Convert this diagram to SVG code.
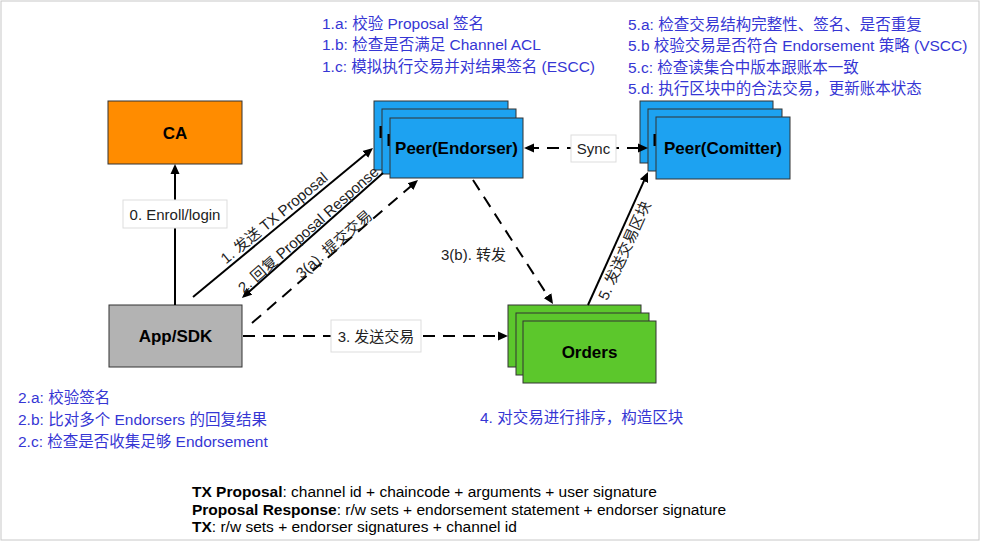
<svg xmlns="http://www.w3.org/2000/svg" width="984" height="543" viewBox="0 0 984 543">
<style>
text{font-family:"Liberation Sans","Noto Sans CJK SC",sans-serif;}
.node{stroke:#333;stroke-width:1;}
.blue{fill:#1DA2F1;}
.green{fill:#5CC72C;}
.orange{fill:#FF8C00;}
.gray{fill:#B3B3B3;}
.nt{font-size:17px;font-weight:bold;fill:#000;text-anchor:middle;}
.frag{fill:#000;}
.lbl{font-size:15px;fill:#222;}
.note{font-size:15.5px;fill:#3636D4;}
.foot{font-size:15.5px;fill:#000;}
.box{fill:#fff;stroke:#ddd;stroke-width:1;}
.ln{fill:none;stroke:#000;stroke-width:2;}
.dash{stroke-dasharray:12 8;}
</style>
<defs>
<marker id="ah" viewBox="0 0 10 10" refX="7" refY="5" markerWidth="5" markerHeight="5" orient="auto-start-reverse" markerUnits="strokeWidth">
<path d="M0,0.5 L10,5 L0,9.5 z" fill="#000"/>
</marker>
</defs>
<rect x="1" y="1" width="978" height="539" fill="#fff" stroke="#c8c8c8" stroke-width="1"/>

<g id="ca">
<rect class="node orange" x="108" y="101" width="134" height="63"/>
<text class="nt" x="175" y="138.5">CA</text>
</g>
<g id="app">
<rect class="node gray" x="109" y="305" width="133" height="62"/>
<text class="nt" x="175.5" y="342">App/SDK</text>
</g>
<g id="endorser">
<rect class="node blue" x="374" y="101" width="134" height="69"/>
<rect class="frag" x="379.5" y="126" width="2.5" height="12"/>
<rect class="node blue" x="382" y="109" width="134" height="65"/>
<rect class="frag" x="387.5" y="134" width="2.5" height="12"/>
<rect class="node blue" x="390" y="118" width="133" height="60"/>
<text class="nt" x="456.5" y="154">Peer(Endorser)</text>
</g>
<g id="committer">
<rect class="node blue" x="640" y="101" width="133" height="62"/>
<rect class="node blue" x="648" y="109" width="134" height="62"/>
<rect class="frag" x="653.5" y="134" width="2.5" height="12"/>
<rect class="node blue" x="656" y="117" width="134" height="62"/>
<text class="nt" x="723" y="154">Peer(Comitter)</text>
</g>
<g id="orders">
<rect class="node green" x="508" y="305" width="133" height="62"/>
<rect class="node green" x="516" y="313" width="133" height="62"/>
<rect class="node green" x="523" y="321" width="133" height="62"/>
<text class="nt" x="589.5" y="358">Orders</text>
</g>

<g id="connectors">
<path class="ln" d="M175,305 V167" marker-end="url(#ah)"/>
<rect class="box" x="123" y="200" width="104" height="28"/>
<text class="lbl" x="175" y="219.5" text-anchor="middle">0. Enroll/login</text>

<path class="ln" d="M193,297 L370.7,149.9" marker-end="url(#ah)"/>
<text class="lbl" transform="translate(280,225) rotate(-39.6)" y="-4" text-anchor="middle">1. 发送 TX Proposal</text>

<path class="ln" d="M383,173 L244.2,296" marker-end="url(#ah)"/>
<text class="lbl" transform="translate(313,235) rotate(-41.6)" y="-2" text-anchor="middle">2. 回复 Proposal Response</text>

<path class="ln dash" d="M252,323 L415.7,182" marker-end="url(#ah)"/>
<text class="lbl" transform="translate(338,249) rotate(-40.8)" y="-1" text-anchor="middle">3(a). 提交交易</text>

<path class="ln dash" d="M473,180 L551.4,301.5" marker-end="url(#ah)"/>
<text class="lbl" x="441" y="260">3(b). 转发</text>

<path class="ln dash" d="M243,336 L505,336" marker-end="url(#ah)"/>
<rect class="box" x="331" y="320" width="90" height="32"/>
<text class="lbl" x="376" y="341.5" text-anchor="middle">3. 发送交易</text>

<path class="ln" d="M588,305 L646.8,174.7" marker-end="url(#ah)"/>
<text class="lbl" transform="translate(614.6,246.1) rotate(-65.7)" y="16" text-anchor="middle">5. 发送交易区块</text>

<path class="ln dash" d="M527,148 L645,148" marker-start="url(#ah)" marker-end="url(#ah)"/>
<rect class="box" x="571" y="135" width="45" height="27"/>
<text class="lbl" x="593.5" y="153.5" text-anchor="middle">Sync</text>
</g>

<g id="notes">
<text class="note" x="322" y="28.5">1.a: 校验 Proposal 签名</text>
<text class="note" x="322" y="50">1.b: 检查是否满足 Channel ACL</text>
<text class="note" x="322" y="71.5">1.c: 模拟执行交易并对结果签名 (ESCC)</text>

<text class="note" x="628" y="29.5">5.a: 检查交易结构完整性、签名、是否重复</text>
<text class="note" x="628" y="50.5">5.b 校验交易是否符合 Endorsement 策略 (VSCC)</text>
<text class="note" x="628" y="72.5">5.c: 检查读集合中版本跟账本一致</text>
<text class="note" x="628" y="93.5">5.d: 执行区块中的合法交易，更新账本状态</text>

<text class="note" x="18" y="403">2.a: 校验签名</text>
<text class="note" x="18" y="425">2.b: 比对多个 Endorsers 的回复结果</text>
<text class="note" x="18" y="447">2.c: 检查是否收集足够 Endorsement</text>

<text class="note" x="480" y="423">4. 对交易进行排序，构造区块</text>

<text class="foot" x="192" y="497"><tspan font-weight="bold">TX Proposal</tspan>: channel id + chaincode + arguments + user signature</text>
<text class="foot" x="192" y="514.5"><tspan font-weight="bold">Proposal Response</tspan>: r/w sets + endorsement statement + endorser signature</text>
<text class="foot" x="192" y="532"><tspan font-weight="bold">TX</tspan>: r/w sets + endorser signatures + channel id</text>
</g>
</svg>
